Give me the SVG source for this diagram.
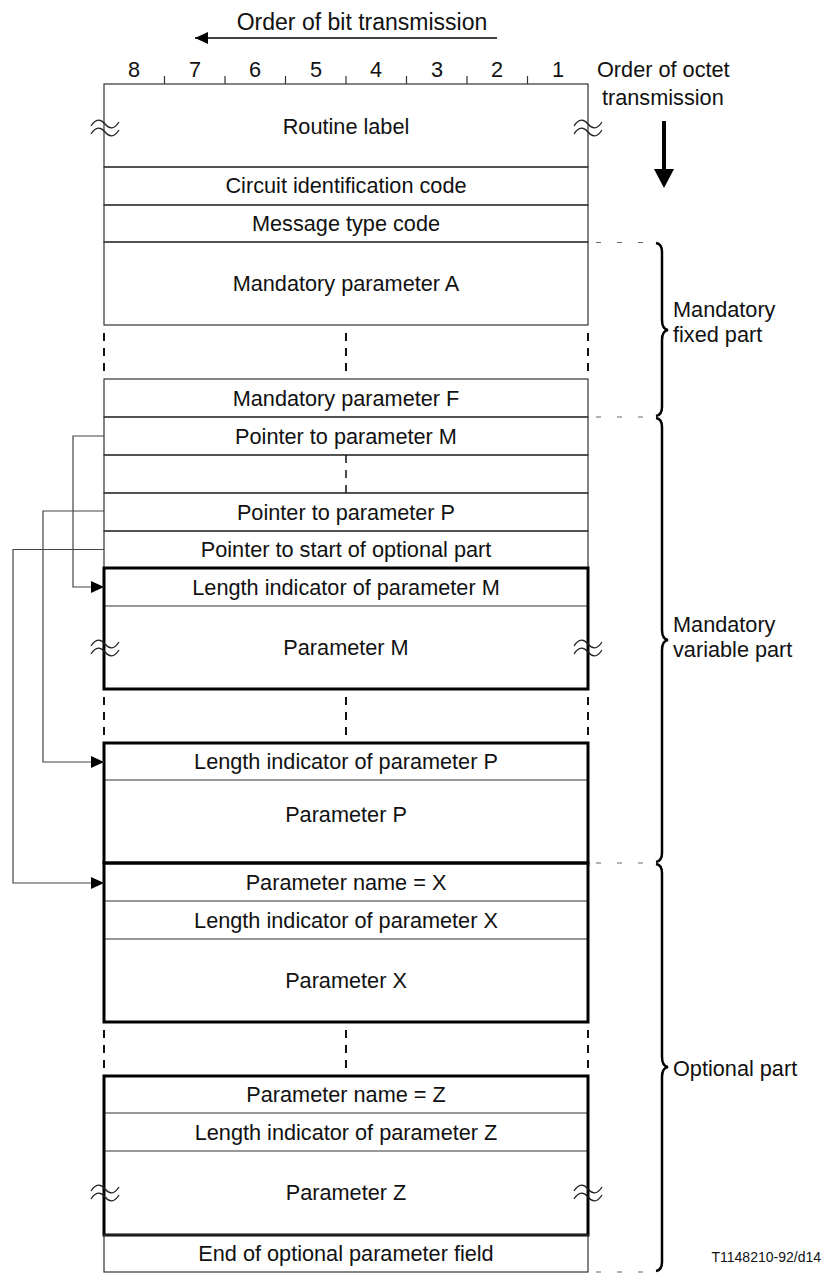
<svg xmlns="http://www.w3.org/2000/svg" width="826" height="1275" viewBox="0 0 826 1275">
  <style>
    text { font-family: "Liberation Sans", Arial, sans-serif; font-size: 21.7px; fill: #111; }
    .c { text-anchor: middle; }
    .thin { fill: none; stroke: #333; stroke-width: 1.2; }
    .thick { fill: none; stroke: #000; stroke-width: 3; }
    .gapdash { stroke: #111; stroke-width: 2; stroke-dasharray: 8 7; }
    .lead { stroke: #666; stroke-width: 1.2; stroke-dasharray: 5 16; }
    .brace { fill: none; stroke: #000; stroke-width: 2.5; }
    .ptr { fill: none; stroke: #444; stroke-width: 1.2; }
    .wave { fill: none; stroke: #222; stroke-width: 1.3; }
  </style>
  <defs>
    <marker id="ah" markerWidth="13" markerHeight="12" refX="13" refY="6" orient="auto" markerUnits="userSpaceOnUse">
      <path d="M0,0 L13,6 L0,12 Z" fill="#000"/>
    </marker>
    <g id="wave">
      <path class="wave" d="M-14,-1 C-9,-9 -4,-8 0,-3 S9,3 14,-5"/>
      <path class="wave" d="M-14,7 C-9,-1 -4,0 0,5 S9,11 14,3"/>
    </g>
  </defs>

  <!-- header: bit order -->
  <g id="bit-order">
    <text class="c" x="362" y="30" style="font-size:23px">Order of bit transmission</text>
    <line x1="497" y1="38" x2="195" y2="38" stroke="#000" stroke-width="1.3" marker-end="url(#ah)"/>
    <g class="c" style="font-size:22px">
      <text x="134" y="77">8</text>
      <text x="195" y="77">7</text>
      <text x="255" y="77">6</text>
      <text x="316" y="77">5</text>
      <text x="376" y="77">4</text>
      <text x="437" y="77">3</text>
      <text x="497" y="77">2</text>
      <text x="558" y="77">1</text>
    </g>
    <path stroke="#333" stroke-width="1.2" d="M164.5,76V84 M225,76V84 M285.5,76V84 M346,76V84 M406.5,76V84 M467,76V84 M527.5,76V84"/>
  </g>

  <!-- header: octet order -->
  <g id="octet-order">
    <text x="597" y="77">Order of octet</text>
    <text x="602" y="105">transmission</text>
    <line x1="664" y1="121" x2="664" y2="172" stroke="#000" stroke-width="4"/>
    <path d="M654,169 L674,169 L664,188 Z" fill="#000"/>
  </g>

  <!-- fixed header rows -->
  <g id="routine-label">
    <rect class="thin" x="104" y="84" width="484" height="83"/>
    <text class="c" x="346" y="134">Routine label</text>
  </g>
  <g id="cic">
    <rect class="thin" x="104" y="167" width="484" height="38"/>
    <text class="c" x="346" y="193">Circuit identification code</text>
  </g>
  <g id="msg-type">
    <rect class="thin" x="104" y="205" width="484" height="37"/>
    <text class="c" x="346" y="231">Message type code</text>
  </g>

  <!-- mandatory fixed part -->
  <g id="param-a">
    <rect class="thin" x="104" y="242" width="484" height="83"/>
    <text class="c" x="346" y="291">Mandatory parameter A</text>
  </g>
  <g id="gap-af">
    <path class="gapdash" d="M104,333V372 M346,333V372 M588,333V372"/>
  </g>
  <g id="param-f">
    <rect class="thin" x="104" y="379" width="484" height="38"/>
    <text class="c" x="346" y="405.5">Mandatory parameter F</text>
  </g>

  <!-- pointers -->
  <g id="ptr-m">
    <rect class="thin" x="104" y="417" width="484" height="38"/>
    <text class="c" x="346" y="443.5">Pointer to parameter M</text>
  </g>
  <g id="ptr-gap">
    <rect class="thin" x="104" y="455" width="484" height="38"/>
    <path stroke="#111" stroke-width="1.5" stroke-dasharray="8 7" d="M346,455V493"/>
  </g>
  <g id="ptr-p">
    <rect class="thin" x="104" y="493" width="484" height="38"/>
    <text class="c" x="346" y="519.5">Pointer to parameter P</text>
  </g>
  <g id="ptr-opt">
    <rect class="thin" x="104" y="531" width="484" height="37"/>
    <text class="c" x="346" y="557">Pointer to start of optional part</text>
  </g>

  <!-- parameter M -->
  <g id="param-m">
    <line class="thin" x1="104" y1="606" x2="588" y2="606"/>
    <rect class="thick" x="104" y="568" width="484" height="121"/>
    <text class="c" x="346" y="594.5">Length indicator of parameter M</text>
    <text class="c" x="346" y="655">Parameter M</text>
  </g>
  <g id="gap-mp">
    <path class="gapdash" d="M104,697V736 M346,697V736 M588,697V736"/>
  </g>

  <!-- parameter P -->
  <g id="param-p">
    <line class="thin" x1="104" y1="780" x2="588" y2="780"/>
    <rect class="thick" x="104" y="743" width="484" height="120"/>
    <text class="c" x="346" y="769">Length indicator of parameter P</text>
    <text class="c" x="346" y="822">Parameter P</text>
  </g>

  <!-- optional parameter X -->
  <g id="param-x">
    <line class="thin" x1="104" y1="901" x2="588" y2="901"/>
    <line class="thin" x1="104" y1="939" x2="588" y2="939"/>
    <rect class="thick" x="104" y="863" width="484" height="159"/>
    <text class="c" x="346" y="889.5">Parameter name = X</text>
    <text class="c" x="346" y="927.5">Length indicator of parameter X</text>
    <text class="c" x="346" y="988">Parameter X</text>
  </g>
  <g id="gap-xz">
    <path class="gapdash" d="M104,1030V1069 M346,1030V1069 M588,1030V1069"/>
  </g>

  <!-- optional parameter Z -->
  <g id="param-z">
    <line class="thin" x1="104" y1="1113" x2="588" y2="1113"/>
    <line class="thin" x1="104" y1="1151" x2="588" y2="1151"/>
    <rect class="thick" x="104" y="1076" width="484" height="159"/>
    <text class="c" x="346" y="1102">Parameter name = Z</text>
    <text class="c" x="346" y="1139.5">Length indicator of parameter Z</text>
    <text class="c" x="346" y="1200">Parameter Z</text>
  </g>
  <g id="end-opt">
    <rect class="thin" x="104" y="1235" width="484" height="37"/>
    <text class="c" x="346" y="1261">End of optional parameter field</text>
  </g>

  <!-- break marks on variable-length fields -->
  <g id="breaks">
    <use href="#wave" x="105" y="127"/>
    <use href="#wave" x="588" y="127"/>
    <use href="#wave" x="105" y="647"/>
    <use href="#wave" x="588" y="647"/>
    <use href="#wave" x="105" y="1192"/>
    <use href="#wave" x="588" y="1192"/>
  </g>

  <!-- pointer connectors -->
  <g id="connectors">
    <path class="ptr" d="M104,436 H73 V587 H104" marker-end="url(#ah)"/>
    <path class="ptr" d="M104,511 H43 V762 H104" marker-end="url(#ah)"/>
    <path class="ptr" d="M104,549.5 H13 V883 H104" marker-end="url(#ah)"/>
  </g>

  <!-- part braces -->
  <g id="braces">
    <path class="lead" d="M596,242.5H655 M596,417H655 M596,863H655 M596,1272H655"/>
    <path class="brace" d="M656,243 Q662,244 662,252 V320 Q662,329 668,330 Q662,331 662,340 V407 Q662,415 656,416"/>
    <path class="brace" d="M656,418 Q662,419 662,427 V630 Q662,639 668,640 Q662,641 662,650 V853 Q662,861 656,862"/>
    <path class="brace" d="M656,864 Q662,865 662,873 V1057 Q662,1066 668,1067 Q662,1068 662,1077 V1262 Q662,1270 656,1271"/>
  </g>

  <!-- part labels -->
  <g id="part-labels">
    <text x="673" y="317">Mandatory</text>
    <text x="673" y="342">fixed part</text>
    <text x="673" y="632">Mandatory</text>
    <text x="673" y="657">variable part</text>
    <text x="673" y="1076">Optional part</text>
    <text x="821" y="1262" style="font-size:14px; text-anchor:end">T1148210-92/d14</text>
  </g>
</svg>
